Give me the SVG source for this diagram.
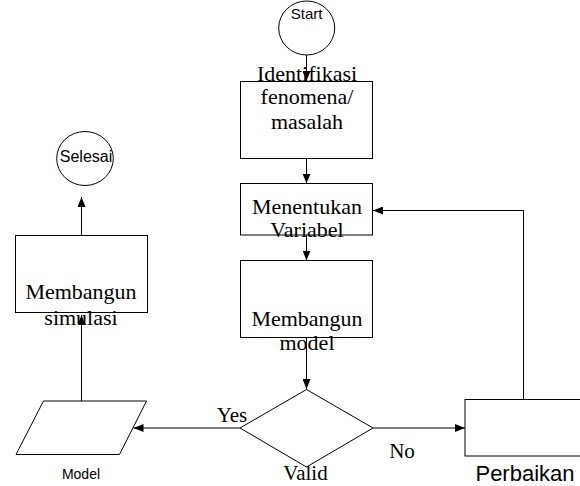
<svg xmlns="http://www.w3.org/2000/svg" width="580" height="486" viewBox="0 0 580 486">
<defs>
<marker id="arr" viewBox="0 0 10 8" refX="10" refY="4" markerWidth="10" markerHeight="8" markerUnits="userSpaceOnUse" orient="auto">
<path d="M0,0 L10,4 L0,8 z" fill="#000"/>
</marker>
<style>
.shape{fill:#fff;stroke:#000;stroke-width:1}
.conn{fill:none;stroke:#000;stroke-width:1;marker-end:url(#arr)}
.ser{font-family:"Liberation Serif","Times New Roman",serif;font-size:22px;fill:#000;text-anchor:middle}
.lbl{font-family:"Liberation Serif","Times New Roman",serif;font-size:21px;fill:#000;text-anchor:middle}
.sans{font-family:"Liberation Sans",Arial,sans-serif;fill:#000;text-anchor:middle}
</style>
</defs>
<rect width="580" height="486" fill="#fff"/>
<g id="start">
<ellipse class="shape" cx="306.7" cy="28" rx="28" ry="27"/>
<text class="sans" x="306.7" y="18.5" font-size="15">Start</text>
</g>
<g id="identifikasi">
<rect class="shape" x="240.5" y="81.5" width="132" height="77"/>
</g>
<g id="menentukan">
<rect class="shape" x="240.5" y="183.5" width="132" height="51.5"/>
</g>
<g id="membangun-model">
<rect class="shape" x="240.5" y="260.5" width="132" height="77"/>
</g>
<g id="valid">
<polygon class="shape" points="306.5,389.5 373,428 306.5,467 240,428"/>
</g>
<g id="perbaikan">
<rect class="shape" x="465" y="399.5" width="130" height="56.5"/>
</g>
<g id="model">
<polygon class="shape" points="43.5,401 146.5,401 119.5,454.5 16,454.5"/>
</g>
<g id="membangun-simulasi">
<rect class="shape" x="15.5" y="235.5" width="132" height="77"/>
</g>
<g id="selesai">
<ellipse class="shape" cx="85" cy="158.5" rx="28.3" ry="27"/>
<text class="sans" x="86" y="161.5" font-size="16">Selesai</text>
</g>
<g id="connectors">
<path class="conn" d="M306.5,55 V81"/>
<path class="conn" d="M306.5,158.5 V183.5"/>
<path class="conn" d="M306.5,235 V260.5"/>
<path class="conn" d="M306.5,338 V389"/>
<path class="conn" d="M240,428 H133.5"/>
<path class="conn" d="M373,428 H465"/>
<path class="conn" d="M523.5,399 V210.5 H373"/>
<path class="conn" d="M81.5,401 V315"/>
<path class="conn" d="M81.5,235.5 V197"/>
</g>
<g id="labels">
<text class="ser" x="307" y="81">Identifikasi</text>
<text class="ser" x="307" y="104">fenomena/</text>
<text class="ser" x="307" y="129">masalah</text>
<text class="ser" x="307" y="214">Menentukan</text>
<text class="ser" x="307" y="237">Variabel</text>
<text class="ser" x="307" y="326">Membangun</text>
<text class="ser" x="307" y="350">model</text>
<text class="ser" x="81" y="298.5">Membangun</text>
<text class="ser" x="81" y="325">simulasi</text>
<text class="lbl" x="232" y="422">Yes</text>
<text class="lbl" x="402" y="457.5">No</text>
<text class="lbl" x="305.5" y="480">Valid</text>
<text class="sans" x="81" y="478.5" font-size="14">Model</text>
<text class="sans" x="525" y="481" font-size="22">Perbaikan</text>
</g>
</svg>
